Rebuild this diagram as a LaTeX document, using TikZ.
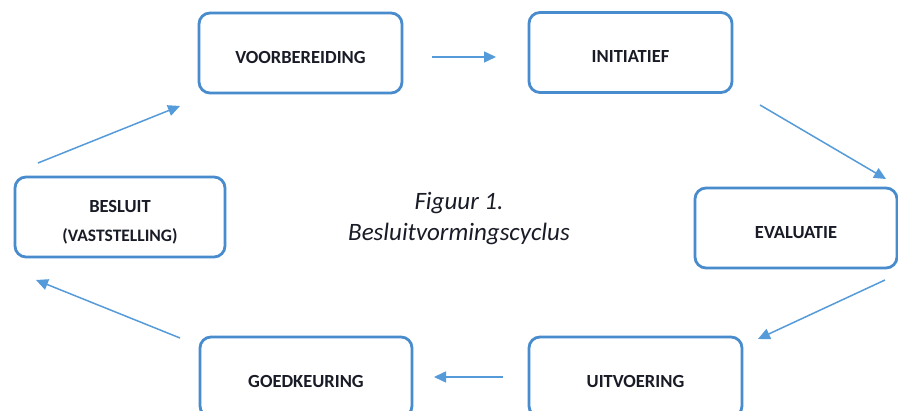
\documentclass[tikz,border=0pt]{standalone}
\usepackage{fontspec}
\setmainfont{Carlito}
\usetikzlibrary{arrows.meta}
\definecolor{boxblue}{RGB}{72,140,205}
\definecolor{arrblue}{RGB}{85,155,218}
\definecolor{txt}{RGB}{25,28,38}
\newcommand{\boxlbl}[1]{\raisebox{-10.5pt}[0pt][0pt]{#1}}
\begin{document}
\begin{tikzpicture}[x=1pt,y=-1pt,
  stepbox/.style={draw=boxblue, line width=2.8pt, rounded corners=11pt, fill=white,
    minimum height=80pt, inner sep=0pt, align=center,
    font=\fontsize{18.5}{22}\selectfont\bfseries, text=txt},
  arr/.style={draw=arrblue, line width=1.5pt, -{Triangle[length=12pt,width=11pt]}}]
\useasboundingbox (0,0) rectangle (898,411);
\fill[white] (0,0) rectangle (898,411);
\node[stepbox, minimum width=203pt] (voor) at (300.5,53) {\boxlbl{VOORBEREIDING}};
\node[stepbox, minimum width=203pt] (init) at (630.5,52.5) {\boxlbl{INITIATIEF}};
\node[stepbox, minimum width=202pt] (eval) at (796,228) {\boxlbl{EVALUATIE}};
\node[stepbox, minimum width=213pt] (uitv) at (635.5,377) {\boxlbl{UITVOERING}};
\node[stepbox, minimum width=212pt] (goed) at (306,377) {\boxlbl{GOEDKEURING}};
\node[stepbox, minimum width=210pt] (besl) at (120,217) {\raisebox{-9.5pt}[0pt][0pt]{\begin{tabular}{@{}c@{}}BESLUIT\\[7pt]\fontsize{17.5}{21}\selectfont (VASTSTELLING)\end{tabular}}};
\node[font=\fontsize{25}{31}\selectfont\itshape, text=txt, align=center] (cap) at (459,218.5)
  {Figuur 1.\\Besluitvormingscyclus};
\coordinate (a1s) at (432,57); \coordinate (a1e) at (496,57);
\coordinate (a2s) at (760,105); \coordinate (a2e) at (886,179);
\coordinate (a3s) at (885,280); \coordinate (a3e) at (758,339);
\coordinate (a4s) at (503,377); \coordinate (a4e) at (434,377);
\coordinate (a5s) at (180,338); \coordinate (a5e) at (36,280);
\coordinate (a6s) at (38,163); \coordinate (a6e) at (180,106);
\draw[arr] (a1s) -- (a1e);
\draw[arr] (a2s) -- (a2e);
\draw[arr] (a3s) -- (a3e);
\draw[arr] (a4s) -- (a4e);
\draw[arr] (a5s) -- (a5e);
\draw[arr] (a6s) -- (a6e);
\end{tikzpicture}
\end{document}
